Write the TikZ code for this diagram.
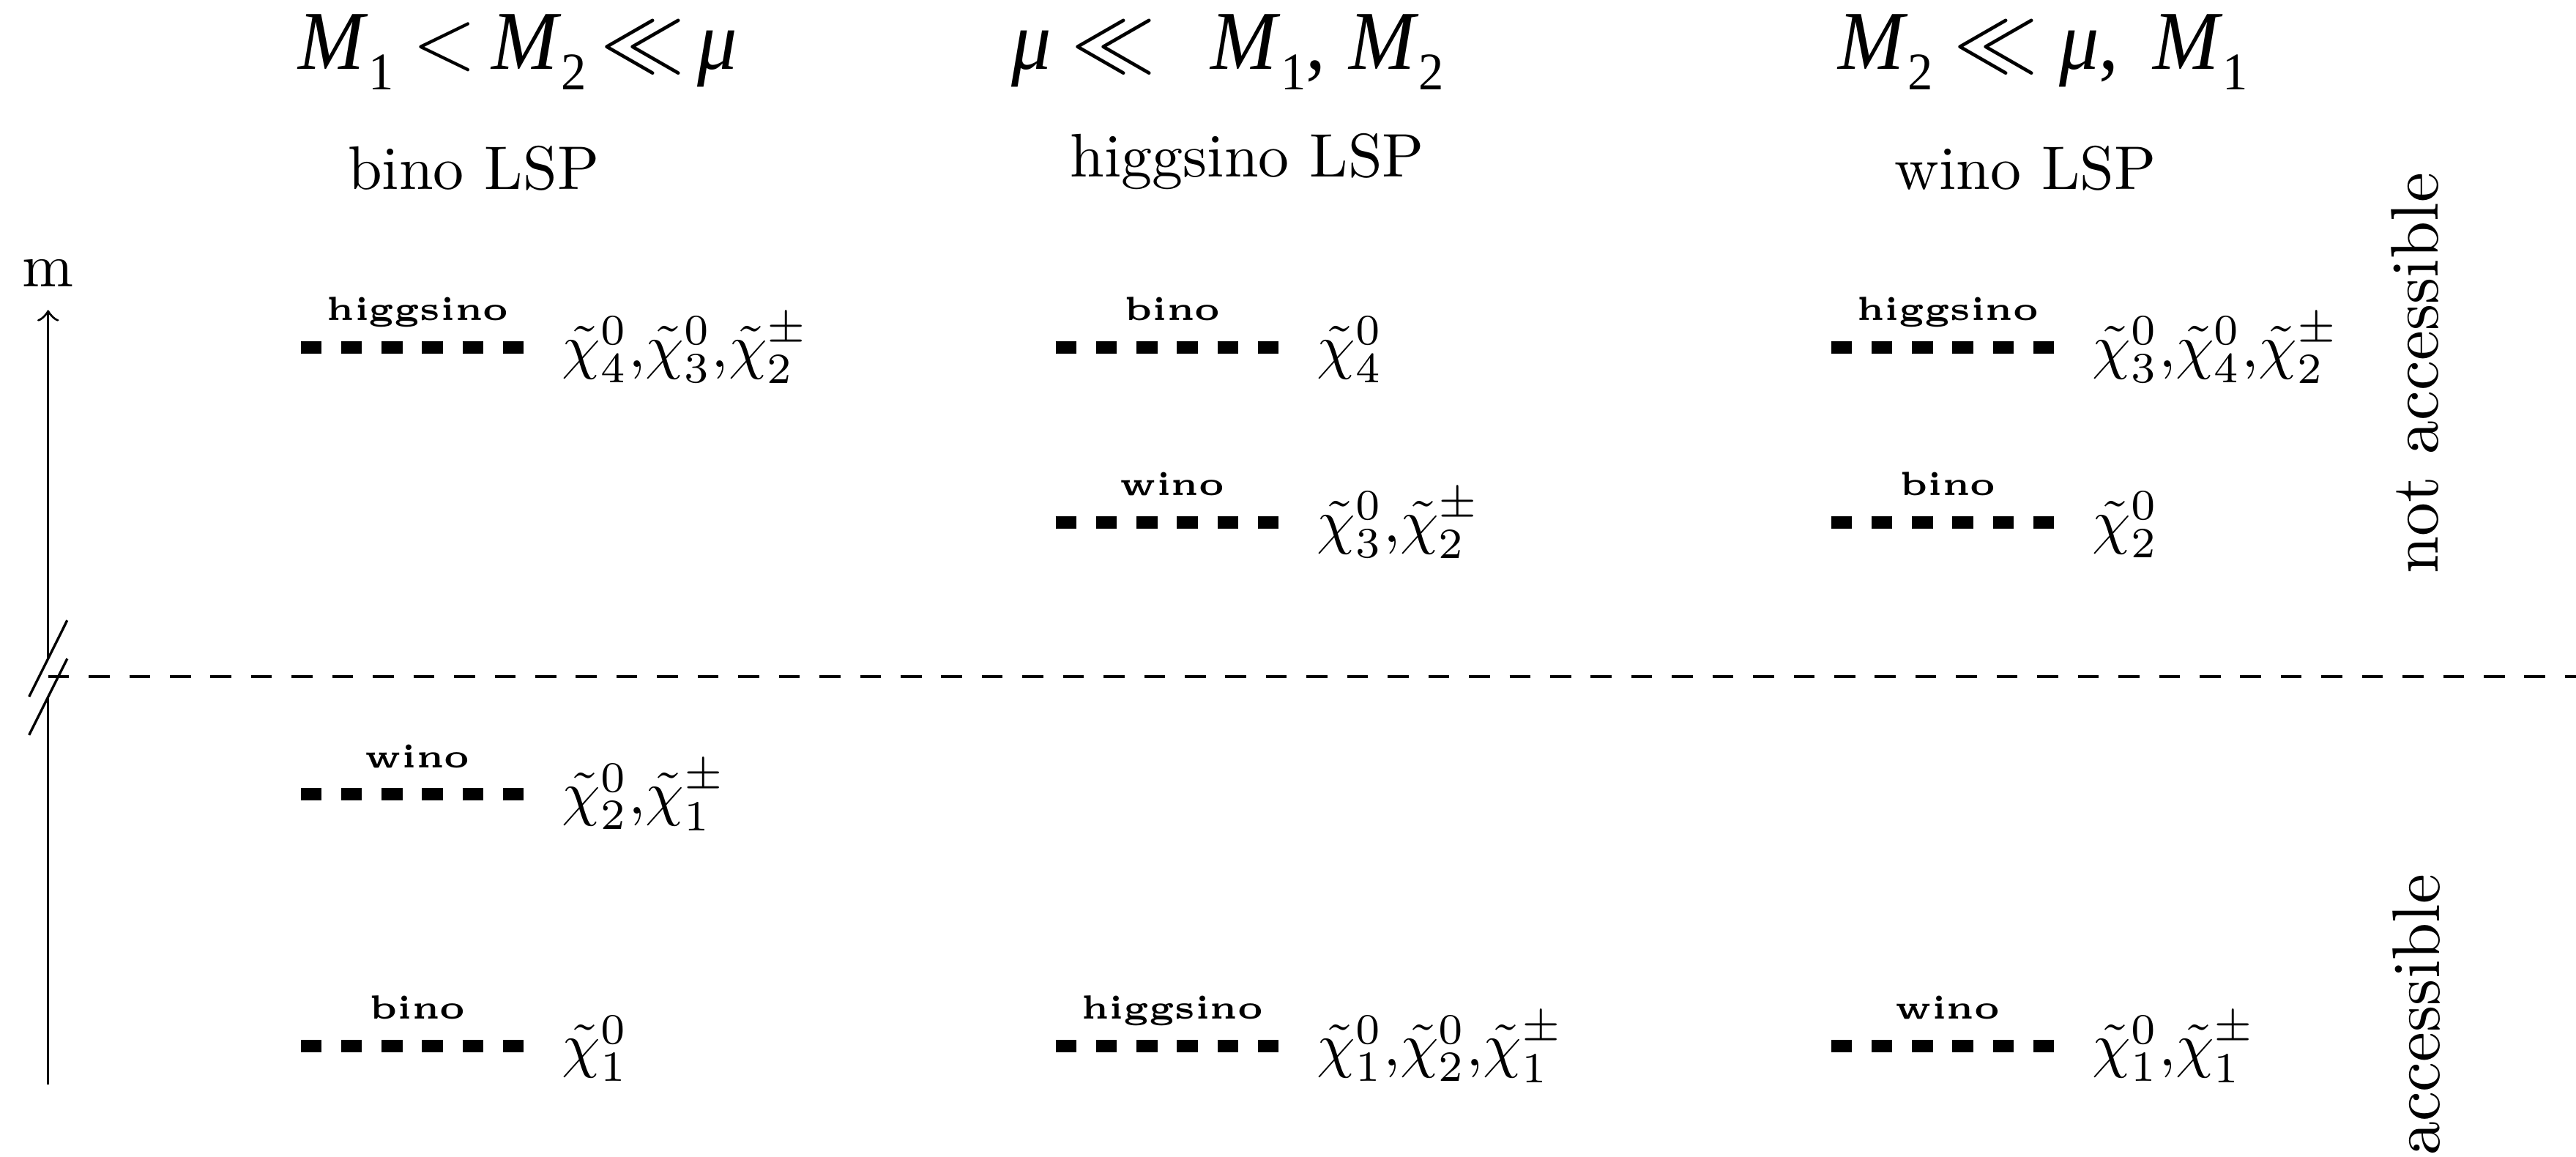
\documentclass[tikz,border=0pt]{standalone}
\usepackage{fontspec}
\newfontfamily\tnr{Liberation Serif}
\newcommand\hsub[1]{\raisebox{-3.3pt}{\fontsize{8.6}{9}\selectfont #1}}
\newcommand\hM{\textit{M}}
\newcommand\hlt{$<$}
\newcommand\hll{$\ll$}
\newcommand\hmu{\textit{μ}}
\newcommand\mylevel[5]{%
  \coordinate (#1l) at (#2,#3);
  \coordinate (#1r) at (#2+136,#3);
  \draw[lev] (#1l) -- (#1r);
  \node[blab] (#1b) at (#2+71,#3-16.4) {#4};
  \node[mlab] (#1m) at (#2+136+22.5,#3+12) {$#5$};
}
\tikzset{
  lev/.style={line width=2pt, dash pattern=on 3.4pt off 3.18pt},
  blab/.style={anchor=base, inner sep=0pt, font=\fontsize{5.45}{6}\selectfont\bfseries},
  mlab/.style={anchor=base west, inner sep=0pt},
  head/.style={anchor=base west, inner sep=0pt, font=\tnr\fontsize{13.6}{15}\selectfont},
  ttl/.style={anchor=base west, inner sep=0pt, font=\fontsize{10}{12}\selectfont},
  side/.style={rotate=90, anchor=base west, inner sep=0pt, font=\fontsize{10.95}{13}\selectfont},
}
\begin{document}
\begin{tikzpicture}[x=0.2671pt, y=-0.2671pt]
\useasboundingbox (0,0) rectangle (1568,704);
% headings
\node[head] (h1) at (181,42.3) {\scalebox{0.95}[1]{\hM\hsub{1}\hspace{3.2pt}\hlt\hspace{2.6pt}\hM\hsub{2}\hspace{2.4pt}\hll\hspace{2.2pt}\hmu}};
\node[head] (h2) at (615,42.3) {\scalebox{0.95}[1]{\hmu\hspace{3.4pt}\hll\hspace{9.5pt}\hM\hsub{1},\hspace{4pt}\hM\hsub{2}}};
\node[head] (h3) at (1118,42.3) {\scalebox{0.95}[1]{\hM\hsub{2}\hspace{3.6pt}\hll\hspace{3.6pt}\hmu,\hspace{5.8pt}\hM\hsub{1}}};
% titles
\node[ttl] (t1) at (211,115) {bino LSP};
\node[ttl] (t2) at (650.7,107.5) {higgsino LSP};
\node[ttl] (t3) at (1152.6,115) {wino LSP};
% axis
\node[anchor=base, inner sep=0pt, font=\fontsize{10}{12}\selectfont] (m) at (29.3,174.7) {m};
\coordinate (axb) at (29.3,660);
\coordinate (axt) at (29.3,188.7);
\coordinate (brkl) at (29.3,424.1);
\coordinate (brku) at (29.3,400.9);
\coordinate (brk) at (29.3,411.9);
\coordinate (edge) at (1568,411.9);
\draw[line width=0.4pt] (axb) -- (brkl);
\draw[line width=0.4pt, ->] (brku) -- (axt);
\draw[line width=0.4pt] (40.9,377.6) -- (17.7,424.1);
\draw[line width=0.4pt] (40.9,400.9) -- (17.7,447.4);
\draw[line width=0.5pt, dash pattern=on 3.4pt off 3.2pt] (brk) -- (edge);
% levels column 1
\mylevel{a1}{183}{211.5}{higgsino}{\tilde\chi^0_4{,}\tilde\chi^0_3{,}\tilde\chi^\pm_2}
\mylevel{a2}{183}{483.5}{wino}{\tilde\chi^0_2{,}\tilde\chi^\pm_1}
\mylevel{a3}{183}{636.8}{bino}{\tilde\chi^0_1}
% column 2
\mylevel{b1}{642.5}{211.5}{bino}{\tilde\chi^0_4}
\mylevel{b2}{642.5}{318}{wino}{\tilde\chi^0_3{,}\tilde\chi^\pm_2}
\mylevel{b3}{642.5}{636.8}{higgsino}{\tilde\chi^0_1{,}\tilde\chi^0_2{,}\tilde\chi^\pm_1}
% column 3
\mylevel{c1}{1114.5}{211.5}{higgsino}{\tilde\chi^0_3{,}\tilde\chi^0_4{,}\tilde\chi^\pm_2}
\mylevel{c2}{1114.5}{318}{bino}{\tilde\chi^0_2}
\mylevel{c3}{1114.5}{636.8}{wino}{\tilde\chi^0_1{,}\tilde\chi^\pm_1}
% side labels
\node[side] (na) at (1484,350) {not accessible};
\node[side] (acc) at (1485,704) {accessible};
\end{tikzpicture}
\end{document}
